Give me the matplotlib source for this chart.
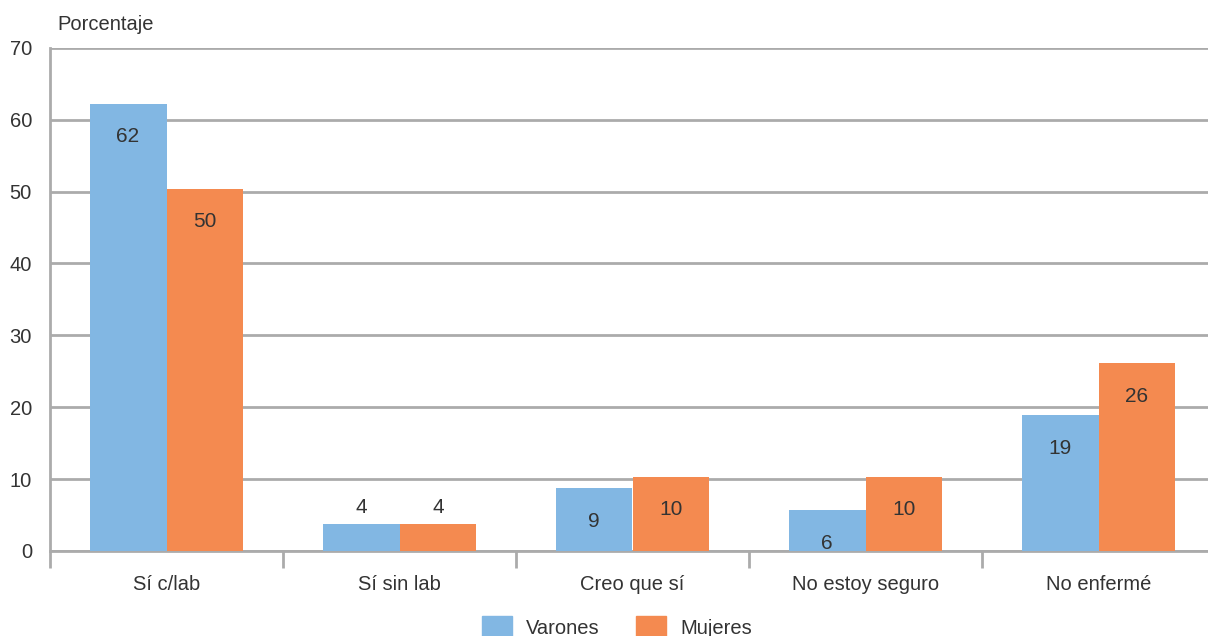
import matplotlib.pyplot as plt
import numpy as np
from matplotlib.patches import Patch

categorias = ['Sí c/lab', 'Sí sin lab', 'Creo que sí', 'No estoy seguro', 'No enfermé']
varones = [62.2, 3.8, 8.7, 5.7, 18.9]
mujeres = [50.4, 3.8, 10.3, 10.3, 26.1]
etiq_varones = ['62', '4', '9', '6', '19']
etiq_mujeres = ['50', '4', '10', '10', '26']

azul = '#82B7E3'
naranja = '#F48A50'
gris = '#ABABAB'
texto = '#333333'

plt.rcParams['font.family'] = ['Liberation Sans Narrow', 'Liberation Sans', 'DejaVu Sans']

fig = plt.figure(figsize=(12.08, 6.36), dpi=100)
ax = fig.add_axes([50/1208, 1-551/636, 1165/1208, (551-47.7)/636])

x = np.arange(len(categorias))
w = 0.33
b1 = ax.bar(x - w/2, varones, w, color=azul, zorder=3)
b2 = ax.bar(x + w/2, mujeres, w, color=naranja, zorder=3)

for barras, etiq in [(b1, etiq_varones), (b2, etiq_mujeres)]:
    for b, t in zip(barras, etiq):
        h = b.get_height()
        xc = b.get_x() + b.get_width()/2
        dy = 16 if h < 5 else -33
        ax.annotate(t, (xc, h), xytext=(0, dy), textcoords='offset pixels',
                    ha='center', va='center', fontsize=15, color=texto)

ax.set_xlim(-0.5, len(categorias) - 0.5)
ax.set_ylim(0, 70)
ax.set_yticks(range(0, 71, 10))
ax.yaxis.grid(True, color=gris, linewidth=2, zorder=0)
ax.tick_params(axis='y', length=0, pad=13, labelsize=14.5, labelcolor=texto)

ax.set_xticks(x)
ax.set_xticklabels(categorias)
ax.set_xticks(np.arange(-0.5, len(categorias)), minor=True)
ax.tick_params(axis='x', which='major', length=0, pad=17, labelsize=14.5, labelcolor=texto)
ax.tick_params(axis='x', which='minor', length=12, width=2, color=gris)

for s in ['top', 'right']:
    ax.spines[s].set_visible(False)
for s in ['left', 'bottom']:
    ax.spines[s].set_color(gris)
    ax.spines[s].set_linewidth(2)

fig.text(57/1208, 1-25/636, 'Porcentaje', fontsize=14.5, color=texto, va='center', ha='left')

handles = [Patch(color=azul, label='Varones'), Patch(color=naranja, label='Mujeres')]
fig.legend(handles=handles, loc='center', bbox_to_anchor=(617/1208, 1-627/636), ncol=2,
           frameon=False, fontsize=14.5, handlelength=1.5, handleheight=1.3,
           handletextpad=0.7, columnspacing=1.8, labelcolor=texto)

fig.savefig('out.png', dpi=100)
